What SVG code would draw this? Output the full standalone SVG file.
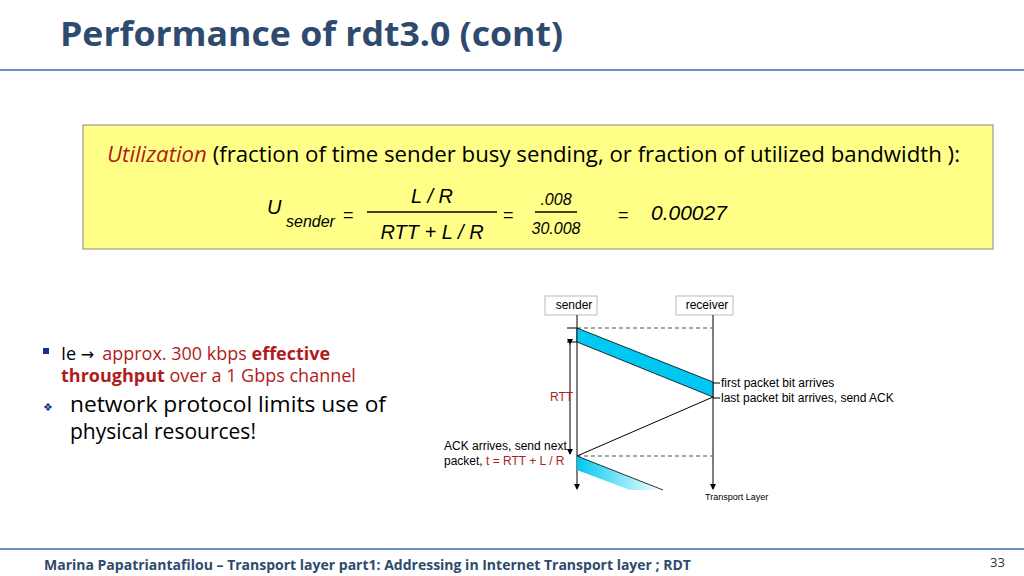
<svg xmlns="http://www.w3.org/2000/svg" width="1024" height="576" viewBox="0 0 1024 576">
<defs>
<style>
.t{font-family:"Liberation Sans",Arial,sans-serif}
.g{font-family:"Open Sans","Liberation Sans",sans-serif}
.red{fill:#b01c1c}
</style>
<marker id="ah" markerWidth="6" markerHeight="6" refX="5" refY="3" orient="auto"><path d="M0,0L6,3L0,6z" fill="#000"/></marker>
<linearGradient id="fade" x1="0" y1="0" x2="1" y2="0"><stop offset="0" stop-color="#00c8f0"/><stop offset="1" stop-color="#00c8f0" stop-opacity="0"/></linearGradient>
</defs>
<rect width="1024" height="576" fill="#fff"/>
<text x="60" y="46" class="g" font-size="34" font-weight="bold" fill="#2e4a6e" textLength="503" lengthAdjust="spacingAndGlyphs">Performance of rdt3.0 (cont)</text>
<line x1="0" y1="70" x2="1024" y2="70" stroke="#6d8fc0" stroke-width="2"/>
<g id="formula">
<rect x="83" y="125" width="910" height="124" fill="#ffff88" stroke="#888"/>
<text x="107" y="162" class="g" font-size="21" textLength="853" lengthAdjust="spacingAndGlyphs"><tspan class="red" font-style="italic">Utilization</tspan> (fraction of time sender busy sending, or fraction of utilized bandwidth ):</text>
<text x="267" y="214" class="t" font-size="20" font-style="italic">U</text>
<text x="286" y="227" class="t" font-size="16" font-style="italic">sender</text>
<text x="343" y="221" class="t" font-size="18">=</text>
<line x1="367" y1="212" x2="497" y2="212" stroke="#000" stroke-width="1.5"/>
<text x="432" y="203" class="t" font-size="20" font-style="italic" text-anchor="middle">L / R</text>
<text x="432" y="239" class="t" font-size="20" font-style="italic" text-anchor="middle">RTT + L / R</text>
<text x="503" y="221" class="t" font-size="18">=</text>
<line x1="535" y1="212" x2="577" y2="212" stroke="#000" stroke-width="1.5"/>
<text x="556" y="205" class="t" font-size="16" font-style="italic" text-anchor="middle">.008</text>
<text x="556" y="234" class="t" font-size="16" font-style="italic" text-anchor="middle">30.008</text>
<text x="618" y="221" class="t" font-size="18">=</text>
<text x="651" y="220" class="t" font-size="21" font-style="italic">0.00027</text>
</g>
<g id="bullets">
<rect x="43" y="348" width="6" height="6" fill="#1a2a9a"/>
<text x="61" y="360" class="g" font-size="18">Ie <tspan font-family="DejaVu Sans,sans-serif" font-size="16">→</tspan><tspan class="red" dx="8">approx. 300 kbps <tspan font-weight="bold">effective</tspan></tspan></text>
<text x="61" y="382" class="g" font-size="18" fill="#b01c1c"><tspan font-weight="bold">throughput</tspan> over a 1 Gbps channel</text>
<text x="43" y="411" class="g" font-size="11" fill="#1a2a9a">❖</text>
<text x="70" y="412" class="g" font-size="21" textLength="316" lengthAdjust="spacingAndGlyphs">network protocol limits use of</text>
<text x="70" y="439" class="g" font-size="21">physical resources!</text>
</g>
<g id="sender"><rect x="545" y="296" width="52" height="19" fill="#fff" stroke="#bbb"/><text x="574" y="309" class="t" font-size="12" text-anchor="middle">sender</text></g>
<g id="receiver"><rect x="676" y="296" width="57" height="19" fill="#fff" stroke="#bbb"/><text x="707" y="309" class="t" font-size="12" text-anchor="middle">receiver</text></g>
<g id="connectors" stroke="#000" fill="none">
<line x1="577" y1="315" x2="577" y2="489" marker-end="url(#ah)"/>
<line x1="713" y1="315" x2="713" y2="489" marker-end="url(#ah)"/>
<line x1="577" y1="328" x2="713" y2="328" stroke-dasharray="4,3" stroke="#555"/>
<line x1="577" y1="456" x2="713" y2="456" stroke-dasharray="4,3" stroke="#555"/>
<line x1="567" y1="328" x2="577" y2="328"/>
<line x1="567" y1="342" x2="577" y2="342"/>
<line x1="570" y1="344" x2="570" y2="454" marker-start="url(#ah)" marker-end="url(#ah)"/>
<polygon points="577,328 713,382 713,397 577,342" fill="#00c8f0" stroke="#000" stroke-width="0.8"/>
<line x1="713" y1="397" x2="577" y2="456"/>
<polygon points="577,456 663,490 630,490 577,470" fill="url(#fade)" stroke="none"/>
<line x1="577" y1="456" x2="663" y2="490" stroke-width="0.8"/>
<line x1="713" y1="383" x2="720" y2="383"/>
<line x1="713" y1="398" x2="720" y2="398"/>
</g>
<g id="labels" class="t" font-size="12">
<text x="721" y="387">first packet bit arrives</text>
<text x="721" y="402">last packet bit arrives, send ACK</text>
<text x="550" y="401" class="red">RTT</text>
<text x="444" y="450">ACK arrives, send next</text>
<text x="444" y="465">packet, <tspan class="red">t = RTT + L / R</tspan></text>
<text x="705" y="500" font-size="9">Transport Layer</text>
</g>
<line x1="0" y1="549" x2="1024" y2="549" stroke="#6d8fc0" stroke-width="2"/>
<text x="44" y="570" class="g" font-size="14" font-weight="bold" fill="#2e4a6e">Marina Papatriantafilou –  Transport layer part1: Addressing in Internet Transport layer ; RDT</text>
<text x="990" y="567" class="g" font-size="13" fill="#333">33</text>
</svg>
